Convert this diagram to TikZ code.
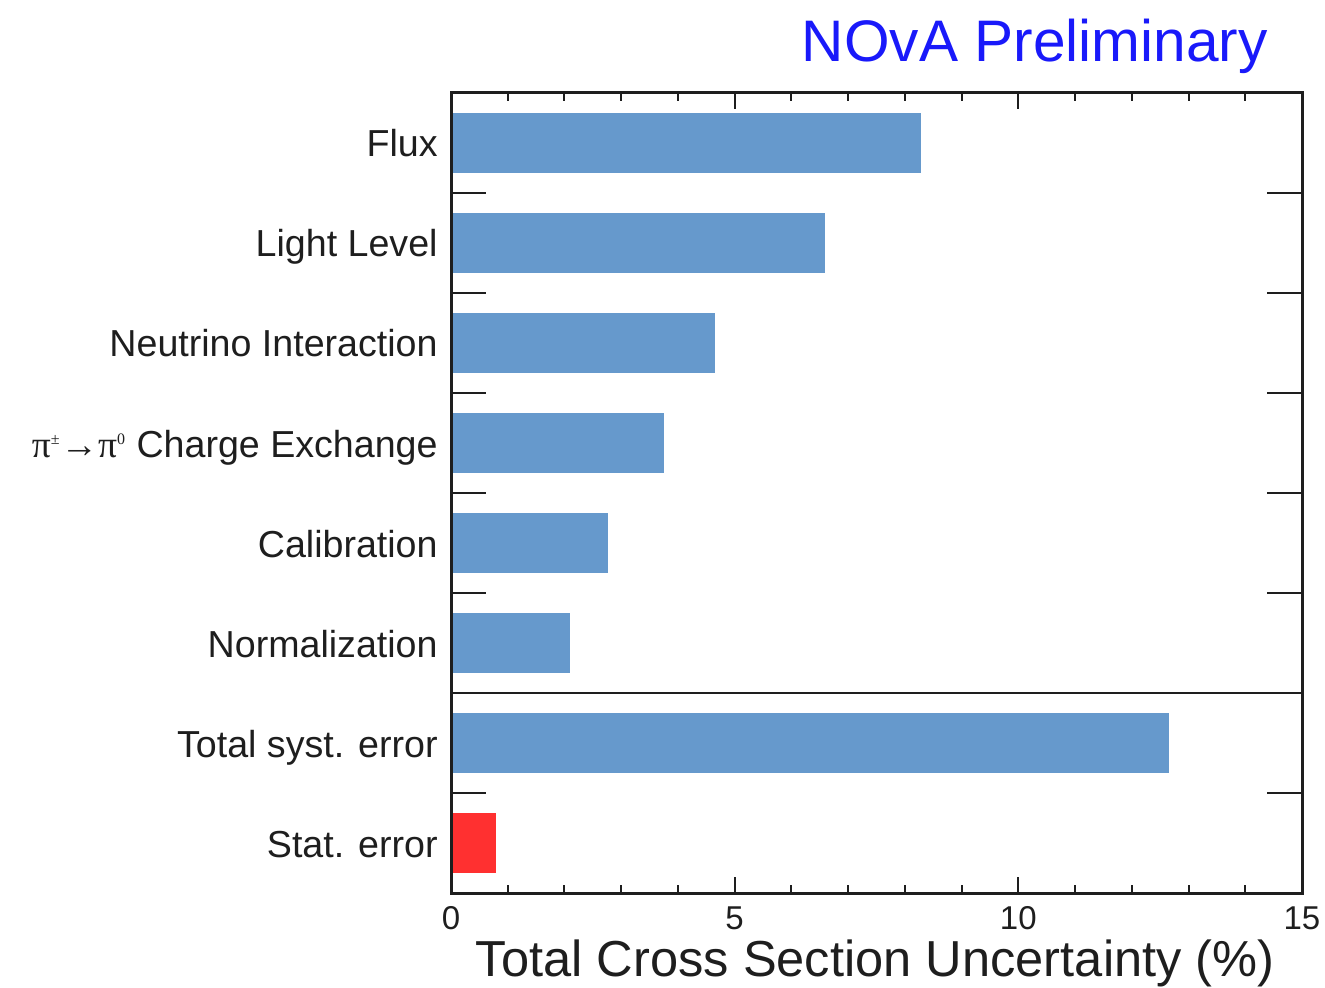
\documentclass[tikz,border=0pt]{standalone}
\usepackage{fontspec}
\setmainfont{Liberation Sans}
\newfontfamily\symbfont{Liberation Serif}
\usetikzlibrary{positioning}
\definecolor{barblue}{RGB}{102,153,204}
\definecolor{statred}{RGB}{255,48,48}
\definecolor{novablue}{RGB}{25,25,250}
\definecolor{axisgray}{RGB}{30,30,30}
\tikzset{
  catlabel/.style={anchor=base east, inner sep=0pt, text=axisgray,
                   font=\fontsize{18.8}{20}\selectfont},
  ticklabel/.style={anchor=north, inner sep=0pt, text=axisgray,
                    font=\fontsize{16.5}{18}\selectfont},
  bar/.style={fill=barblue, draw=none},
  statbar/.style={fill=statred, draw=none},
  frame/.style={draw=axisgray, line width=1.5pt},
  axtick/.style={draw=axisgray, line width=1pt},
}
\begin{document}
\begin{tikzpicture}[x=0.5pt, y=-0.5pt]
  \useasboundingbox (0,0) rectangle (1325,988);
  % bars and their labels, one row every 100px
  \foreach \val/\name [count=\i from 0] in {8.28/Flux, 6.59/Light Level,
      4.65/Neutrino Interaction,
      3.75/{{\symbfont π\textsuperscript{\footnotesize±}→π\textsuperscript{\footnotesize0}} Charge Exchange},
      2.77/Calibration, 2.10/Normalization, 12.66/Total syst. error} {
    \fill[bar] (452,113+100*\i) rectangle ({451+56.73*\val},173+100*\i);
    \node[catlabel] (cat\i) at (438,157+100*\i) {\name};
  }
  \fill[statbar] (452,813) rectangle ({451+56.73*0.79},873);
  \node[catlabel] (cat7) at (438,857) {Stat. error};
  % frame
  \draw[frame] (451,93) rectangle (1302,893);
  \draw[axtick, line width=1.2pt] (451,693) -- (1302,693);
  \foreach \y in {193,293,...,793} {
    \draw[axtick] (451,\y) -- (486,\y);
    \draw[axtick] (1267,\y) -- (1302,\y);
  }
  \foreach \k in {1,...,14} {
    \pgfmathsetmacro\len{mod(\k,5)==0 ? 16 : 8}
    \draw[axtick] ({451+56.73*\k},893) -- ++(0,-\len);
    \draw[axtick] ({451+56.73*\k},93) -- ++(0,\len);
  }
  % axis numbers and titles
  \foreach \k in {0,5,10,15}
    \node[ticklabel] (xt\k) at ({451+56.73*\k},906) {\k};
  \node[anchor=base east, inner sep=0pt, text=axisgray,
        font=\fontsize{25.3}{27}\selectfont] (xtitle) at (1275,976)
        {Total Cross Section Uncertainty (\%)};
  \node[anchor=base east, inner sep=0pt, text=novablue,
        font=\fontsize{29.3}{31}\selectfont] (nova) at (1268,62)
        {NOvA Preliminary};
\end{tikzpicture}
\end{document}
